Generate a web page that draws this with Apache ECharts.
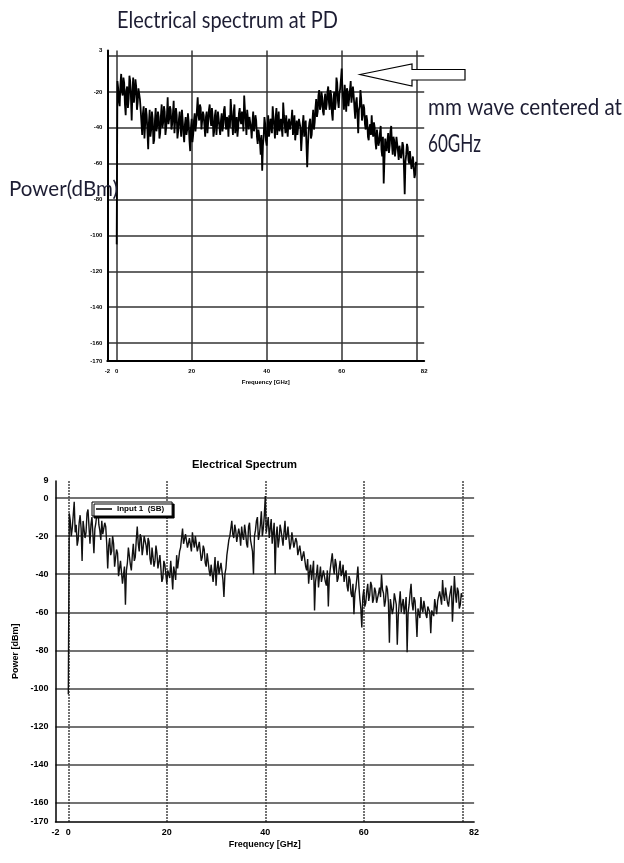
<!DOCTYPE html>
<html><head><meta charset="utf-8">
<script src="https://cdn.jsdelivr.net/npm/echarts@6/dist/echarts.min.js"></script>
<style>html,body{margin:0;padding:0;background:#fff}#c{width:624px;height:863px}</style>
</head><body><div id="c"></div>
<script>
// ---------------- DATA ----------------
const FREQ_STEP_GHZ = 0.2;   // spacing of the spectrum samples, starting at 0 GHz

// Top chart: "Electrical spectrum at PD" (dBm), one row = 2 GHz
const pdPowerDbm = [
 -105,-14,-18,-25,-28,-16,-10,-20,-22,-12,
 -15,-27,-33,-19,-17,-29,-24,-11,-14,-23,
 -36,-20,-12,-26,-21,-13,-17,-30,-26,-18,
 -19,-24,-30,-37,-44,-32,-28,-46,-38,-29,
 -33,-42,-52,-37,-30,-45,-41,-31,-35,-49,
 -47,-36,-29,-42,-39,-31,-34,-46,-43,-33,
 -27,-40,-37,-28,-31,-44,-40,-33,-23,-38,
 -35,-28,-30,-41,-38,-32,-25,-43,-36,-29,
 -33,-46,-42,-35,-31,-39,-45,-30,-36,-43,
 -48,-38,-34,-44,-41,-32,-37,-47,-53,-40,
 -35,-48,-44,-36,-32,-42,-38,-30,-23,-33,
 -36,-27,-29,-41,-40,-31,-33,-39,-45,-34,
 -31,-43,-37,-30,-27,-35,-39,-29,-34,-45,
 -42,-33,-30,-44,-38,-31,-35,-40,-44,-36,
 -32,-42,-39,-30,-28,-37,-41,-34,-36,-45,
 -33,-40,-24,-31,-37,-44,-31,-27,-43,-38,
 -34,-45,-40,-32,-29,-36,-38,-31,-35,-42,
 -22,-30,-36,-44,-30,-35,-41,-34,-33,-40,
 -46,-37,-31,-42,-39,-33,-36,-45,-49,-41,
 -40,-48,-55,-44,-64,-50,-45,-34,-38,-47,
 -50,-41,-33,-45,-42,-35,-37,-43,-28,-34,
 -39,-46,-34,-29,-44,-38,-31,-42,-40,-35,
 -36,-45,-26,-33,-38,-43,-33,-39,-45,-37,
 -35,-41,-42,-36,-30,-44,-39,-33,-47,-42,
 -36,-44,-43,-35,-34,-40,-53,-45,-38,-33,
 -45,-40,-36,-49,-62,-50,-41,-37,-35,-46,
 -44,-36,-30,-41,-37,-29,-24,-34,-31,-22,
 -19,-30,-28,-20,-23,-31,-33,-25,-21,-30,
 -27,-20,-17,-26,-30,-19,-22,-32,-36,-24,
 -20,-30,-26,-12,-15,-25,-29,-21,-18,-13,
 -7,-19,-24,-30,-16,-22,-31,-18,-20,-28,
 -27,-19,-14,-26,-25,-17,-22,-29,-35,-26,
 -23,-32,-43,-30,-28,-19,-24,-36,-33,-27,
 -29,-38,-41,-33,-36,-45,-47,-40,-38,-44,
 -33,-42,-45,-37,-40,-48,-52,-41,-42,-50,
 -48,-43,-39,-52,-56,-45,-71,-58,-46,-51,
 -53,-47,-43,-54,-50,-42,-39,-49,-55,-45,
 -47,-56,-52,-45,-44,-53,-58,-50,-49,-57,
 -54,-48,-50,-62,-77,-59,-55,-49,-51,-58,
 -60,-53,-54,-63,-62,-56,-57,-68,-66,-59,
 -61
];

// Bottom chart: "Electrical Spectrum", series "Input 1  (SB)" (dBm), one row = 2 GHz
const sbPowerDbm = [
 -103,-8,-12,-20,-16,-9,-2,-18,-14,-25,
 -22,-13,-9,-16,-33,-12,-11,-21,-18,-8,
 -6,-15,-24,-14,-10,-19,-29,-16,-13,-8,
 -4,-14,-17,-22,-12,-19,-20,-13,-15,-24,
 -37,-25,-21,-30,-28,-20,-24,-36,-35,-27,
 -29,-41,-40,-33,-32,-45,-44,-36,-56,-38,
 -34,-26,-27,-35,-38,-30,-24,-33,-31,-22,
 -15,-24,-28,-19,-21,-30,-26,-20,-19,-25,
 -30,-21,-23,-32,-35,-26,-27,-36,-33,-25,
 -29,-37,-38,-30,-31,-44,-42,-33,-35,-40,
 -45,-38,-37,-42,-33,-40,-48,-36,-39,-43,
 -30,-37,-36,-28,-26,-21,-16,-24,-25,-19,
 -20,-26,-27,-21,-22,-28,-18,-23,-26,-20,
 -21,-28,-29,-23,-24,-33,-31,-25,-27,-34,
 -36,-29,-30,-38,-41,-35,-34,-44,-38,-31,
 -46,-37,-33,-40,-39,-34,-35,-43,-52,-40,
 -37,-30,-26,-22,-20,-16,-12,-19,-21,-14,
 -17,-23,-24,-16,-19,-25,-15,-20,-22,-14,
 -18,-24,-26,-15,-13,-22,-21,-28,-40,-20,
 -17,-12,-10,-22,-19,-14,-7,-20,-16,-9,
 1,-18,-14,-10,-21,-16,-11,-24,-18,-13,
 -40,-20,-15,-26,-22,-14,-17,-21,-25,-18,
 -12,-22,-20,-15,-16,-27,-24,-18,-19,-26,
 -27,-21,-23,-30,-31,-25,-26,-33,-34,-28,
 -29,-36,-38,-32,-45,-39,-35,-43,-42,-33,
 -59,-44,-40,-35,-47,-41,-36,-44,-43,-38,
 -39,-44,-46,-38,-57,-42,-37,-33,-29,-36,
 -40,-32,-35,-44,-42,-37,-33,-41,-39,-35,
 -44,-40,-38,-46,-49,-41,-43,-50,-52,-45,
 -61,-50,-47,-42,-36,-46,-53,-58,-68,-52,
 -48,-57,-55,-49,-45,-54,-51,-44,-46,-55,
 -53,-47,-49,-55,-56,-50,-47,-52,-40,-48,
 -50,-57,-54,-46,-48,-55,-76,-53,-52,-61,
 -58,-50,-51,-56,-77,-62,-55,-49,-60,-56,
 -53,-61,-57,-52,-81,-60,-56,-50,-45,-55,
 -59,-52,-54,-62,-73,-58,-57,-63,-52,-58,
 -60,-54,-55,-61,-63,-57,-56,-60,-71,-59,
 -58,-62,-53,-57,-61,-54,-55,-49,-50,-56,
 -43,-51,-54,-47,-48,-55,-57,-52,-51,-46,
 -65,-54,-41,-50,-55,-47,-49,-58,-56,-50,
 -52
];

// Axis ranges and printed tick labels
const topXRange = [-2.5, 82];
const topYRange = [-170, 3];
const botXRange = [-2.6, 82.4];
const botYRange = [-170, 9];
const xMinLabel = '-2';
const xMaxLabel = '82';
const xHiddenTick = 80;          // its label is covered by the "82" end label
const topHiddenYTick = 0;        // covered by the top end label in the upper plot

const topTitle = 'Electrical spectrum at PD';
const annotationLine1 = 'mm wave centered at';
const annotationLine2 = '60GHz';
const topYName = 'Power(dBm)';
const botTitle = 'Electrical Spectrum';
const seriesName = 'Input 1  (SB)';
const xName = 'Frequency [GHz]';
const botYName = 'Power [dBm]';

// ---------------- CHART ----------------
const toPoints = arr => arr.map((v, i) => [Math.round(i * FREQ_STEP_GHZ * 10) / 10, v]);

const mctx = document.createElement('canvas').getContext('2d');
function fitText(text, left, cy, family, size, weight, targetW, color) {
  const font = weight + ' ' + size + 'px ' + family;
  mctx.font = font;
  const w = mctx.measureText(text).width || 1;
  return {
    type: 'text', x: left, y: cy, scaleX: targetW / w, z: 100,
    style: { text: text, x: 0, y: 0, font: font, fill: color,
             align: 'left', verticalAlign: 'middle', textAlign: 'left', textVerticalAlign: 'middle' }
  };
}

const xFmt = range => v => {
  if (v === range[0]) return xMinLabel;
  if (v === range[1]) return xMaxLabel;
  if (v === xHiddenTick) return '';
  return String(v);
};

const TOPF = "'Liberation Sans', Arial, sans-serif";
const CAL = "Lato, 'Open Sans', sans-serif";

const chart = echarts.init(document.getElementById('c'), null, { renderer: 'canvas' });
chart.setOption({
  animation: false,
  backgroundColor: '#fff',
  grid: [
    { left: 107.3, top: 50.6, width: 316.9, height: 310.4 },
    { left: 55.5, top: 480.9, width: 418.6, height: 340.9 }
  ],
  legend: {
    data: [seriesName], left: 92, top: 502, padding: [3, 8, 3, 4],
    icon: 'rect', itemWidth: 16, itemHeight: 1.5, itemGap: 4,
    backgroundColor: '#fff', borderColor: '#000', borderWidth: 1,
    shadowColor: '#000', shadowOffsetX: 2, shadowOffsetY: 2, shadowBlur: 0,
    textStyle: { fontFamily: TOPF, fontSize: 8, fontWeight: 'bold', color: '#000' }
  },
  xAxis: [
    { type: 'value', gridIndex: 0, min: topXRange[0], max: topXRange[1], splitNumber: 4,
      axisLine: { show: true, onZero: false, lineStyle: { color: '#000', width: 2 } },
      axisTick: { show: false },
      axisLabel: { fontFamily: TOPF, fontSize: 6, fontWeight: 'bold', color: '#000', margin: 7,
                   showMinLabel: true, showMaxLabel: true, formatter: xFmt(topXRange) },
      splitLine: { show: true, showMinLine: false, showMaxLine: false, lineStyle: { color: '#333', width: 1.5 } },
      name: xName, nameLocation: 'middle', nameGap: 18,
      nameTextStyle: { fontFamily: TOPF, fontSize: 6, fontWeight: 'bold', color: '#000' } },
    { type: 'value', gridIndex: 1, min: botXRange[0], max: botXRange[1], splitNumber: 4,
      axisLine: { show: true, onZero: false, lineStyle: { color: '#000', width: 1.5 } },
      axisTick: { show: false },
      axisLabel: { fontFamily: TOPF, fontSize: 9, fontWeight: 'bold', color: '#000', margin: 6,
                   showMinLabel: true, showMaxLabel: true, formatter: xFmt(botXRange) },
      splitLine: { show: true, showMinLine: false, showMaxLine: false, lineStyle: { color: '#444', width: 1.5, type: [2, 1] } },
      name: xName, nameLocation: 'middle', nameGap: 18,
      nameTextStyle: { fontFamily: TOPF, fontSize: 9, fontWeight: 'bold', color: '#000' } }
  ],
  yAxis: [
    { type: 'value', gridIndex: 0, min: topYRange[0], max: topYRange[1], splitNumber: 9,
      axisLine: { show: true, onZero: false, lineStyle: { color: '#000', width: 2 } },
      axisTick: { show: false },
      axisLabel: { fontFamily: TOPF, fontSize: 6, fontWeight: 'bold', color: '#000', margin: 5,
                   showMinLabel: true, showMaxLabel: true,
                   formatter: v => (v === topHiddenYTick ? '' : String(v)) },
      splitLine: { show: true, showMinLine: false, showMaxLine: false, lineStyle: { color: '#333', width: 1.5 } } },
    { type: 'value', gridIndex: 1, min: botYRange[0], max: botYRange[1], splitNumber: 9,
      axisLine: { show: true, onZero: false, lineStyle: { color: '#000', width: 1.5 } },
      axisTick: { show: false },
      axisLabel: { fontFamily: TOPF, fontSize: 9, fontWeight: 'bold', color: '#000', margin: 7,
                   showMinLabel: true, showMaxLabel: true },
      splitLine: { show: true, showMinLine: false, showMaxLine: false, lineStyle: { color: '#444', width: 1.5 } },
      name: botYName, nameLocation: 'middle', nameGap: 27, nameRotate: 90,
      nameTextStyle: { fontFamily: TOPF, fontSize: 9, fontWeight: 'bold', color: '#000' } }
  ],
  series: [
    { type: 'line', name: 'PD', xAxisIndex: 0, yAxisIndex: 0, data: toPoints(pdPowerDbm),
      symbol: 'none', showSymbol: false, lineStyle: { color: '#000', width: 1.8 }, itemStyle: { color: '#000' } },
    { type: 'line', name: seriesName, xAxisIndex: 1, yAxisIndex: 1, data: toPoints(sbPowerDbm),
      symbol: 'none', showSymbol: false, lineStyle: { color: '#111', width: 1.4 }, itemStyle: { color: '#000' } }
  ],
  graphic: [
    fitText(topTitle, 117, 21, CAL, 23, 'normal', 221, '#1d1d33'),
    fitText(annotationLine1, 428, 108, CAL, 23, 'normal', 194, '#1d1d33'),
    fitText(annotationLine2, 428, 144, CAL, 25, 'normal', 53, '#1d1d33'),
    fitText(topYName, 9, 189, CAL, 21, 'normal', 109, '#1d1d33'),
    fitText(botTitle, 192, 465, TOPF, 11, 'bold', 105, '#000'),
    { type: 'polygon', z: 100,
      shape: { points: [[360, 74.5], [412, 64], [412, 69.5], [465, 69.5], [465, 80], [412, 80], [412, 86]] },
      style: { fill: '#fff', stroke: '#000', lineWidth: 1.2 } }
  ]
});
</script></body></html>
